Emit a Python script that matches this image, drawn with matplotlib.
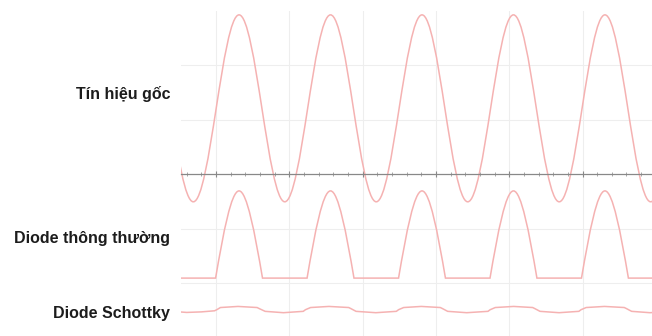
import numpy as np
import matplotlib.pyplot as plt
from matplotlib.path import Path
from matplotlib.patches import PathPatch

# x in minor-tick units (major grid every 5), y in grid units (axis at 0)
# original signal: alternating troughs / peaks
sine_x = [0.33, 3.45, 6.57, 9.69, 12.81, 15.93, 19.05, 22.17, 25.29,
          28.41, 31.53, 34.65, 37.77]
sine_y = [2.92, -0.51, 2.92, -0.51, 2.92, -0.51, 2.92, -0.51, 2.92,
          -0.51, 2.92, -0.51, 2.92]

# ordinary diode: half-wave pulses on a flat base
pulse_start = [4.97, 11.21, 17.45, 23.69, 29.93]
pulse_peak = [6.57, 12.81, 19.05, 25.29, 31.53]
pulse_end = [8.17, 14.41, 20.65, 26.89, 33.13]
pulse_top = -0.31
pulse_base = -1.91

# schottky diode: small clipped wave
schottky_x = [2.0, 3.0, 4.0, 4.9, 5.05, 5.3, 6.5, 7.8, 7.95, 8.35, 9.6,
              10.95, 11.1, 11.45, 12.7, 14.05, 14.2, 14.55, 15.9,
              17.3, 17.45, 17.8, 19.0, 20.3, 20.45, 20.8, 22.1,
              23.55, 23.7, 24.05, 25.3, 26.6, 26.75, 27.1, 28.4,
              29.75, 29.9, 30.25, 31.5, 32.85, 33.0, 33.35, 34.6, 35.5]
schottky_y = [-2.52, -2.54, -2.53, -2.51, -2.49, -2.45, -2.43, -2.45, -2.47,
              -2.52, -2.545, -2.52, -2.49, -2.45, -2.43, -2.45, -2.47,
              -2.52, -2.545, -2.52, -2.49, -2.45, -2.43, -2.45, -2.47,
              -2.52, -2.545, -2.52, -2.49, -2.45, -2.43, -2.45, -2.47,
              -2.52, -2.545, -2.52, -2.49, -2.45, -2.43, -2.45, -2.47,
              -2.52, -2.545, -2.53]

labels = ['Tín hiệu gốc', 'Diode thông thường', 'Diode Schottky']
label_y = [99, 243, 318]  # baselines, px from top

LINE = '#f5b2b2'
K = (np.pi - 2) / np.pi  # bezier handle for a half cosine


def wave_path(xs, ys):
    verts = [(xs[0], ys[0])]
    codes = [Path.MOVETO]
    for x0, y0, x1, y1 in zip(xs[:-1], ys[:-1], xs[1:], ys[1:]):
        dx = x1 - x0
        verts += [(x0 + K * dx, y0), (x1 - K * dx, y1), (x1, y1)]
        codes += [Path.CURVE4] * 3
    return Path(verts, codes)


def pulse_path(starts, peaks, ends, top, base, x0, x1):
    h = top - base
    verts = [(x0, base)]
    codes = [Path.MOVETO]
    for s, p, e in zip(starts, peaks, ends):
        verts.append((s, base))
        codes.append(Path.LINETO)
        q = p - s
        verts += [(s + 0.334 * q, base + 0.525 * h), (s + 0.666 * q, top), (p, top)]
        q = e - p
        verts += [(p + 0.334 * q, top), (p + 0.666 * q, base + 0.525 * h), (e, base)]
        codes += [Path.CURVE4] * 6
    verts.append((x1, base))
    codes.append(Path.LINETO)
    return Path(verts, codes)


fig = plt.figure(figsize=(6.52, 3.36), dpi=100)
ax = fig.add_axes([181 / 652, -1.5 / 336, 471 / 652, 327 / 336])
ax.set_xlim(2.61, 34.74)
ax.set_ylim(-3, 3)

ax.set_xticks(np.arange(5, 35, 5))
ax.set_xticks(np.arange(3, 35, 1), minor=True)
ax.set_yticks([-2, -1, 1, 2])
ax.grid(True, color='#eeeeee', lw=0.8)
ax.set_axisbelow(True)

for s in ['left', 'right', 'top']:
    ax.spines[s].set_visible(False)
ax.spines['bottom'].set_position(('data', 0))
ax.spines['bottom'].set_color('#888888')
ax.spines['bottom'].set_linewidth(0.9)
ax.tick_params(axis='x', which='major', direction='inout', length=4,
               color='#888888', labelbottom=False)
ax.tick_params(axis='x', which='minor', direction='inout', length=2.5,
               color='#999999')
ax.tick_params(axis='y', left=False, labelleft=False)

ax.add_patch(PathPatch(wave_path(sine_x, sine_y), fill=False,
                       edgecolor=LINE, lw=1.1))
ax.add_patch(PathPatch(pulse_path(pulse_start, pulse_peak, pulse_end,
                                  pulse_top, pulse_base, 2.0, 35.5),
                       fill=False, edgecolor=LINE, lw=1.1))
ax.plot(schottky_x, schottky_y, color=LINE, lw=1.1)

for text, yb in zip(labels, label_y):
    fig.text(170 / 652, 1 - yb / 336, text, ha='right', va='baseline',
             fontsize=11.5, fontweight='bold', color='#1c1c1c',
             family='Liberation Sans')

fig.savefig('out.png', dpi=100)
